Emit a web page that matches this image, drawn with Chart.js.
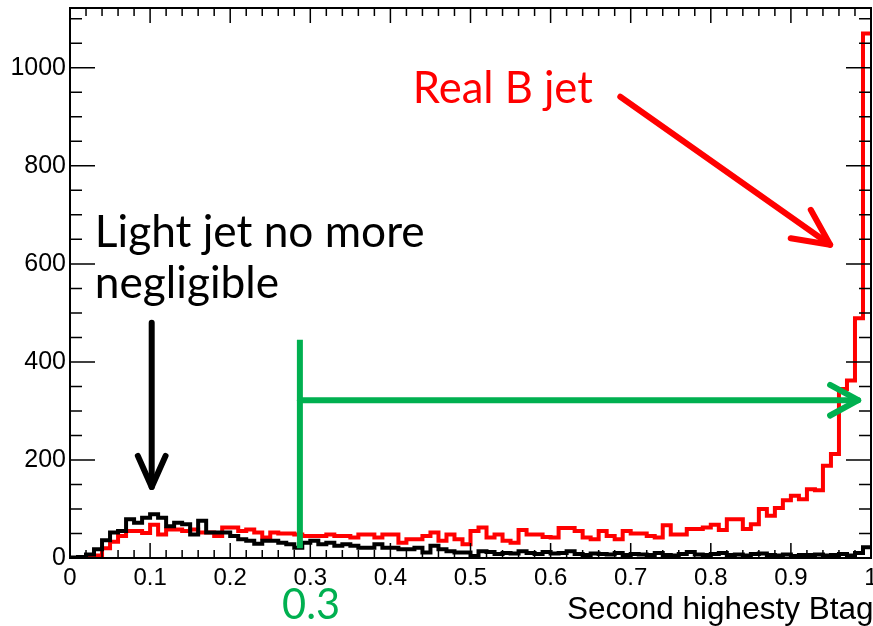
<!DOCTYPE html>
<html><head><meta charset="utf-8">
<script src="https://cdn.jsdelivr.net/npm/chart.js@4.4.0/dist/chart.umd.min.js"></script>
<style>html,body{margin:0;padding:0;background:#fff;overflow:hidden}canvas{display:block}</style>
</head><body>
<canvas id="c" width="873" height="626"></canvas>
<script>
// ---- data ----
const nBins = 100;
const binLowEdges = Array.from({length: nBins}, (_, i) => i / nBins);
const realBJet = [
  0, 0, 2, 5, 20, 33, 45, 55, 55, 51,
  68, 48, 58, 58, 55, 58, 52, 52, 45, 62,
  62, 55, 58, 52, 42, 52, 50, 50, 48, 45,
  45, 45, 48, 45, 45, 42, 48, 48, 42, 48,
  48, 31, 38, 38, 45, 52, 35, 48, 38, 28,
  55, 62, 42, 48, 35, 31, 57, 48, 48, 43,
  42, 61, 61, 55, 42, 38, 55, 45, 38, 55,
  50, 50, 45, 42, 67, 48, 48, 59, 59, 62,
  68, 57, 79, 79, 59, 69, 100, 86, 102, 118,
  127, 120, 140, 138, 188, 212, 345, 362, 489, 1070
];
const lightJet = [
  1, 2, 7, 18, 36, 52, 55, 79, 72, 82,
  89, 82, 65, 72, 69, 48, 76, 52, 52, 52,
  45, 38, 35, 29, 35, 35, 31, 28, 21, 31,
  35, 28, 31, 25, 28, 25, 21, 21, 28, 21,
  21, 18, 18, 21, 11, 25, 18, 14, 11, 11,
  4, 14, 12, 8, 10, 9, 14, 10, 8, 12,
  9, 10, 14, 8, 6, 9, 8, 7, 10, 6,
  8, 7, 6, 10, 6, 5, 8, 12, 7, 6,
  8, 10, 6, 7, 5, 8, 9, 6, 5, 7,
  4, 6, 6, 7, 5, 6, 8, 5, 10, 22
];
const xTickLabels = ['0','0.1','0.2','0.3','0.4','0.5','0.6','0.7','0.8','0.9','1'];
const yTickLabels = ['0','200','400','600','800','1000'];
const xTitle = 'Second highesty Btag';
const cutLabel = '0.3';
const realLabel = 'Real B jet';
const lightLabel = ['Light jet no more', 'negligible'];

function histPoints(vals) {
  const pts = vals.map((v, i) => ({x: binLowEdges[i], y: v}));
  pts.push({x: 1, y: vals[vals.length - 1]});
  return pts;
}

const GREEN = '#00b050';
const RED = '#ff0000';

function arrow(ctx, x1, y1, x2, y2, color, w, head, ang) {
  ctx.save();
  ctx.strokeStyle = color; ctx.lineWidth = w; ctx.lineCap = 'round'; ctx.lineJoin = 'round';
  ctx.beginPath(); ctx.moveTo(x1, y1); ctx.lineTo(x2, y2); ctx.stroke();
  const t = Math.atan2(y2 - y1, x2 - x1);
  ctx.beginPath();
  ctx.moveTo(x2 - head * Math.cos(t - ang), y2 - head * Math.sin(t - ang));
  ctx.lineTo(x2, y2);
  ctx.lineTo(x2 - head * Math.cos(t + ang), y2 - head * Math.sin(t + ang));
  ctx.stroke();
  ctx.restore();
}
function fitSize(ctx, text, family, targetW) {
  ctx.font = '100px ' + family;
  return 100 * targetW / ctx.measureText(text).width;
}

const decor = {
  id: 'decor',
  afterDatasetsDraw(chart) {
    const {ctx, chartArea: a, scales: {x, y}} = chart;
    ctx.save();
    // frame
    ctx.strokeStyle = '#000'; ctx.lineWidth = 2;
    ctx.strokeRect(a.left, a.top, a.right - a.left, a.bottom - a.top);
    ctx.lineWidth = 1.5;
    ctx.beginPath();
    for (let k = 0; k <= 50; k++) {
      const px = x.getPixelForValue(k * 0.02);
      const L = (k % 5 === 0) ? 15 : 8;
      ctx.moveTo(px, a.bottom); ctx.lineTo(px, a.bottom - L);
      ctx.moveTo(px, a.top); ctx.lineTo(px, a.top + L);
    }
    for (let k = 0; k * 50 <= y.max; k++) {
      const py = y.getPixelForValue(k * 50);
      const L = (k % 4 === 0) ? 25 : 12;
      ctx.moveTo(a.left, py); ctx.lineTo(a.left + L, py);
      ctx.moveTo(a.right, py); ctx.lineTo(a.right - L, py);
    }
    ctx.stroke();

    // green cut line and arrow
    const gx = x.getPixelForValue(0.287);
    ctx.strokeStyle = GREEN; ctx.lineWidth = 6; ctx.lineCap = 'butt';
    ctx.beginPath(); ctx.moveTo(gx, y.getPixelForValue(445)); ctx.lineTo(gx, y.getPixelForValue(20)); ctx.stroke();
    arrow(ctx, gx, y.getPixelForValue(322), x.getPixelForValue(0.984), y.getPixelForValue(322), GREEN, 6, 32, 0.5);
    // black arrow
    arrow(ctx, x.getPixelForValue(0.102), y.getPixelForValue(480), x.getPixelForValue(0.102), y.getPixelForValue(145), '#000', 6, 34, 0.42);
    // red arrow
    arrow(ctx, x.getPixelForValue(0.687), y.getPixelForValue(941), x.getPixelForValue(0.949), y.getPixelForValue(639), RED, 6, 40, 0.45);

    // texts
    const fam = 'Lato, "Open Sans", sans-serif';
    ctx.textAlign = 'left'; ctx.textBaseline = 'alphabetic';
    ctx.fillStyle = RED;
    ctx.font = fitSize(ctx, realLabel, fam, 180) + 'px ' + fam;
    ctx.fillText(realLabel, x.getPixelForValue(0.428), y.getPixelForValue(929));
    ctx.fillStyle = '#000';
    const s1 = fitSize(ctx, lightLabel[0], fam, 330);
    ctx.font = s1 + 'px ' + fam;
    ctx.fillText(lightLabel[0], x.getPixelForValue(0.031), y.getPixelForValue(635));
    ctx.fillText(lightLabel[1], x.getPixelForValue(0.031), y.getPixelForValue(531));
    ctx.fillStyle = GREEN; ctx.textAlign = 'center';
    ctx.font = fitSize(ctx, cutLabel, fam, 58) + 'px ' + fam;
    ctx.fillText(cutLabel, x.getPixelForValue(0.301), a.bottom + 61);
    // axis title
    ctx.fillStyle = '#000'; ctx.textAlign = 'left';
    ctx.font = '31.5px "Liberation Sans", Arial, sans-serif';
    ctx.fillText(xTitle, 567, a.bottom + 61);
    ctx.restore();
  }
};

function build() {
  new Chart(document.getElementById('c'), {
    type: 'line',
    data: {
      datasets: [
        {label: 'light', data: histPoints(lightJet), borderColor: '#000', borderWidth: 4, stepped: true, pointRadius: 0, fill: false},
        {label: 'realB', data: histPoints(realBJet), borderColor: RED, borderWidth: 4, stepped: true, pointRadius: 0, fill: false}
      ]
    },
    options: {
      responsive: false, animation: false, devicePixelRatio: 1,
      layout: {padding: {top: 8, right: 2, left: 0, bottom: 0}},
      plugins: {legend: {display: false}, tooltip: {enabled: false}},
      scales: {
        x: {
          type: 'linear', min: 0, max: 1,
          grid: {display: false, drawTicks: false}, border: {display: false},
          ticks: {stepSize: 0.1, padding: 6, color: '#000', autoSkip: false, maxRotation: 0,
            font: {family: '"Liberation Sans", Arial, sans-serif', size: 24},
            callback: (v, i) => xTickLabels[i]},
          afterFit(s) { s.height = 68; s.paddingLeft = 0; s.paddingRight = 0; }
        },
        y: {
          type: 'linear', min: 0, max: 1122,
          grid: {display: false, drawTicks: false}, border: {display: false},
          ticks: {stepSize: 200, padding: 4, color: '#000',
            font: {family: '"Liberation Sans", Arial, sans-serif', size: 25},
            callback: (v, i) => yTickLabels[i]},
          afterFit(s) { s.width = 70; s.paddingTop = 0; s.paddingBottom = 0; }
        }
      }
    },
    plugins: [decor]
  });
}
if (document.fonts && document.fonts.load) {
  Promise.all([document.fonts.load('40px Lato'), document.fonts.load('23px "Liberation Sans"')]).then(build, build);
} else build();
</script>
</body></html>
